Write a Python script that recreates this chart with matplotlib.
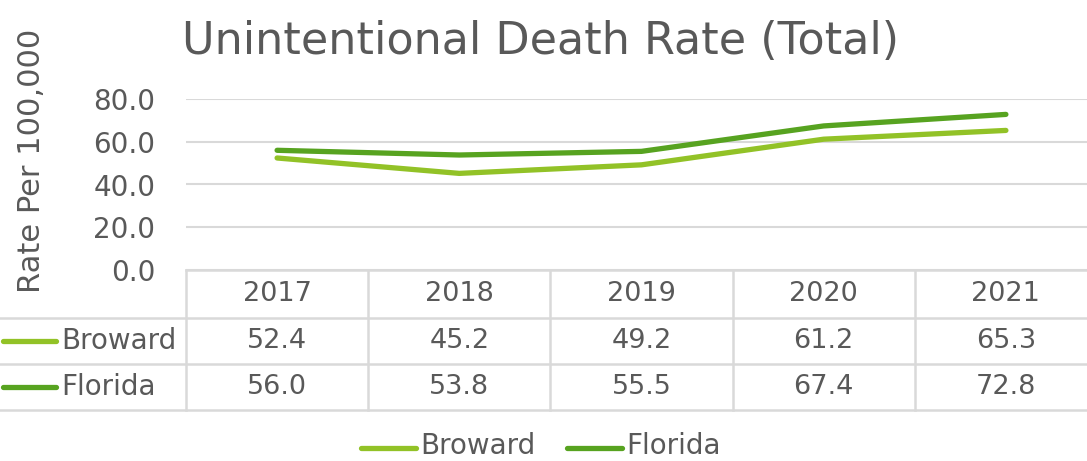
import numpy as np
import matplotlib.pyplot as plt
from matplotlib.lines import Line2D
from matplotlib.transforms import blended_transform_factory

years = ['2017', '2018', '2019', '2020', '2021']
broward = [52.4, 45.2, 49.2, 61.2, 65.3]
florida = [56.0, 53.8, 55.5, 67.4, 72.8]
series_names = ['Broward', 'Florida']
colors = ['#92C227', '#57A320']
yticks = [0, 20, 40, 60, 80]

W, H = 1087, 461
txt = '#595959'
grid = '#D9D9D9'
plt.rcParams['font.family'] = ['DejaVu Sans']

fig = plt.figure(figsize=(W / 100, H / 100), dpi=100)

def fx(px):
    return px / W

def fy(py):
    return 1 - py / H

# plot area: 0 at y=270px, 80 at y=99px, columns from 186px to 1097px
ax = fig.add_axes([fx(186), fy(270), fx(1097 - 186), (270 - 99) / H])
ax.set_xlim(-0.5, len(years) - 0.5)
ax.set_ylim(0, 80)
for s in ax.spines.values():
    s.set_visible(False)
ax.set_xticks([])
ax.set_yticks(yticks)
ax.set_yticklabels([f'{v:.1f}' for v in yticks], fontsize=20, color=txt)
ax.tick_params(axis='y', length=0, pad=22)
ax.yaxis.grid(True, color=grid, lw=1.5)
ax.set_axisbelow(True)

x = np.arange(len(years))
for vals, c, name in zip([broward, florida], colors, series_names):
    ax.plot(x, vals, color=c, lw=3.8, solid_capstyle='round', label=name)

# data table
tr = blended_transform_factory(ax.transData, fig.transFigure)
row_y = [270, 318, 364, 410]
for i, py in enumerate(row_y):
    x0 = 186 if i == 0 else 0
    fig.add_artist(Line2D([fx(x0), 1.05], [fy(py), fy(py)], color=grid, lw=1.8,
                          transform=fig.transFigure))
for k in range(len(years) + 1):
    fig.add_artist(Line2D([k - 0.5, k - 0.5], [fy(270), fy(410)], color=grid, lw=1.8,
                          transform=tr))
for k, yr in enumerate(years):
    fig.text(k, fy(294), yr, transform=tr, ha='center', va='center', fontsize=19.5, color=txt)
for r, (vals, c, name) in enumerate(zip([broward, florida], colors, series_names)):
    yc = fy(341 + r * 46)
    for k, v in enumerate(vals):
        fig.text(k, yc, f'{v:.1f}', transform=tr, ha='center', va='center',
                 fontsize=19.5, color=txt)
    fig.add_artist(Line2D([fx(3), fx(56)], [yc, yc], color=c, lw=3.8,
                          solid_capstyle='round', transform=fig.transFigure))
    fig.text(fx(61), yc, name, ha='left', va='center', fontsize=20, color=txt)

# bottom legend
for (lx, c, name) in zip([361, 567], colors, series_names):
    ly = fy(448)
    fig.add_artist(Line2D([fx(lx), fx(lx + 55)], [ly, ly], color=c, lw=3.8,
                          solid_capstyle='round', transform=fig.transFigure))
    fig.text(fx(lx + 59), fy(446), name, ha='left', va='center', fontsize=20, color=txt)

fig.text(fx(540), fy(41), 'Unintentional Death Rate (Total)', ha='center', va='center',
         fontsize=32, color=txt)
fig.text(fx(32), fy(161), 'Rate Per 100,000', ha='center', va='center', rotation=90,
         fontsize=22, color=txt)

fig.savefig('out.png', dpi=100)
